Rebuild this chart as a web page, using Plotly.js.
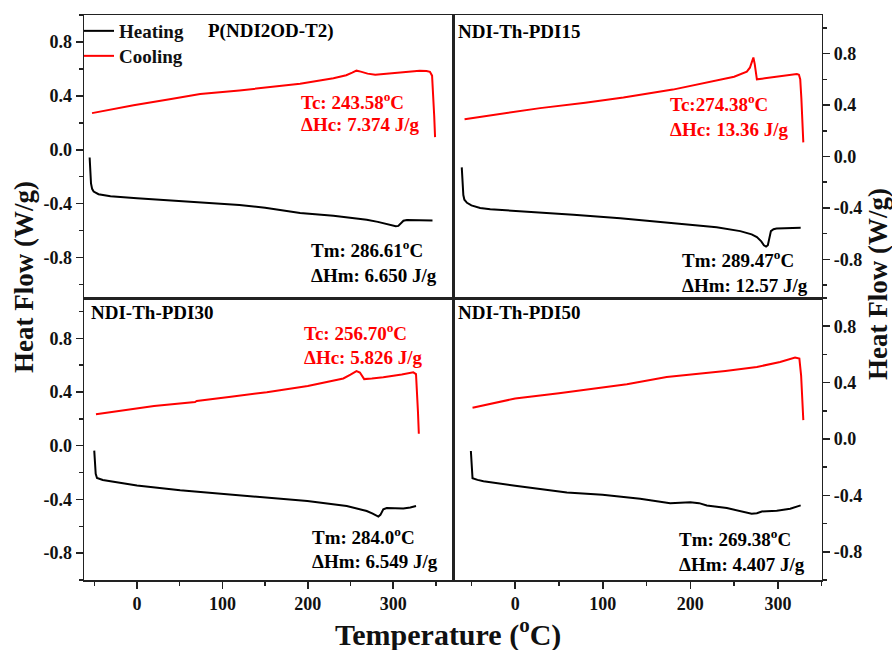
<!DOCTYPE html>
<html>
<head>
<meta charset="utf-8">
<script src="https://cdn.plot.ly/plotly-3.0.1.min.js"></script>
<style>html,body{margin:0;padding:0;background:#fff;}#chart{width:892px;height:650px;}</style>
</head>
<body>
<div id="chart"></div>
<script>
// ---------- DATA ----------
// Panel 1: P(NDI2OD-T2)
const p1HeatT  = [-55.4,-54.8,-53.8,-52.5,-50.7,-45,-38,-31,0,40,74,120,150,191,230,255,269,282,290,298,303,306,309,312,316,330,346];
const p1HeatHF = [-0.057,-0.16,-0.25,-0.29,-0.31,-0.33,-0.34,-0.345,-0.36,-0.375,-0.39,-0.41,-0.43,-0.469,-0.49,-0.505,-0.519,-0.535,-0.548,-0.56,-0.568,-0.565,-0.545,-0.527,-0.521,-0.522,-0.524];
const p1CoolT  = [-52.6,-40,-4,40,74,120,150,191,230,245,252,257,262,270,279,290,308,320,331,339,343,345.5,347,348,349];
const p1CoolHF = [0.272,0.287,0.331,0.376,0.413,0.44,0.46,0.49,0.53,0.553,0.572,0.587,0.58,0.565,0.556,0.562,0.573,0.582,0.587,0.585,0.578,0.55,0.4,0.25,0.094];

// Panel 2: NDI-Th-PDI15
const p2HeatT  = [-61,-60.3,-59.2,-58,-55,-50,-40,-28.5,20,66.5,120,180.7,230,257,270,276,281,284,286.5,288.5,290,292,295,298.5,326];
const p2HeatHF = [-0.085,-0.2,-0.3,-0.336,-0.36,-0.38,-0.40,-0.41,-0.43,-0.453,-0.48,-0.517,-0.55,-0.58,-0.605,-0.626,-0.66,-0.69,-0.70,-0.69,-0.64,-0.58,-0.565,-0.56,-0.554];
const p2CoolT  = [-57.8,-20,28.5,80,123.6,180,218.8,230,250,264.5,268,270.5,272,273.5,275,276,285,295,315,321.6,324,325.5,326.8,328,329];
const p2CoolHF = [0.29,0.33,0.376,0.418,0.458,0.52,0.575,0.596,0.62,0.66,0.69,0.74,0.77,0.72,0.64,0.60,0.608,0.617,0.636,0.642,0.635,0.6,0.45,0.28,0.11];

// Panel 3: NDI-Th-PDI30
const p3HeatT  = [-50,-49.3,-48.3,-46.8,-40,-31,0,50.6,100,152,199.5,245.6,269,276,280,282.6,285,288.4,292.4,300,311.8,320,326.7];
const p3HeatHF = [-0.037,-0.13,-0.21,-0.24,-0.255,-0.264,-0.296,-0.331,-0.358,-0.39,-0.412,-0.449,-0.486,-0.505,-0.52,-0.528,-0.515,-0.474,-0.464,-0.466,-0.467,-0.46,-0.449];
const p3CoolT  = [-48,-20,20,68,70,110,152,200,230,241.6,250,257,261,266,275,288.4,310,323.5,326.7,328,329,330];
const p3CoolHF = [0.235,0.26,0.295,0.325,0.333,0.365,0.398,0.445,0.489,0.501,0.53,0.556,0.545,0.496,0.5,0.509,0.53,0.546,0.533,0.4,0.25,0.089];

// Panel 4: NDI-Th-PDI50
const p4HeatT  = [-50.6,-50,-49.3,-48.7,-43,-36.2,0,59,99.7,142.7,177,190,200,210,218.8,241.7,255,270,276,281.6,298.7,314,326];
const p4HeatHF = [-0.085,-0.17,-0.25,-0.278,-0.29,-0.30,-0.332,-0.379,-0.396,-0.424,-0.455,-0.452,-0.448,-0.455,-0.471,-0.49,-0.51,-0.53,-0.527,-0.514,-0.509,-0.495,-0.471];
const p4CoolT  = [-48.7,0,50,99.7,127.5,173,200,240,276,302.5,319.6,324.5,326.5,327.8,329];
const p4CoolHF = [0.222,0.287,0.325,0.365,0.389,0.44,0.457,0.483,0.511,0.546,0.577,0.57,0.45,0.3,0.134];

// Tick labels
const xTickVals = [0, 100, 200, 300];
const xTickText = ['0', '100', '200', '300'];
const yTickVals = [-0.8, -0.4, 0, 0.4, 0.8];
const yTickText = ['-0.8', '-0.4', '0.0', '0.4', '0.8'];

// Texts
const seriesNames = ['Heating', 'Cooling'];
const panelTitles = ['P(NDI2OD-T2)', 'NDI-Th-PDI15', 'NDI-Th-PDI30', 'NDI-Th-PDI50'];
const tcTexts  = ['Tc: 243.58<sup>o</sup>C', 'Tc:274.38<sup>o</sup>C', 'Tc: 256.70<sup>o</sup>C'];
const hcTexts  = ['ΔHc: 7.374 J/g', 'ΔHc: 13.36 J/g', 'ΔHc: 5.826 J/g'];
const tmTexts  = ['Tm: 286.61<sup>o</sup>C', 'Tm: 289.47<sup>o</sup>C', 'Tm: 284.0<sup>o</sup>C', 'Tm: 269.38<sup>o</sup>C'];
const hmTexts  = ['ΔHm: 6.650 J/g', 'ΔHm: 12.57 J/g', 'ΔHm: 6.549 J/g', 'ΔHm: 4.407 J/g'];
const yTitle = 'Heat Flow (W/g)';
const xTitle = 'Temperature (<sup>o</sup>C)';

// ---------- LAYOUT ----------
const W = 892, H = 650;
const FAM = '"Liberation Serif", "Times New Roman", serif';
const px = v => v / W;
const py = v => 1 - v / H;

const xL = [px(84), px(453)], xR = [px(453), px(821.7)];
const yT = [py(298), py(15)], yB = [py(580), py(298)];
const rangeL = [-62, 370], rangeR = [-71, 350];

const lineCol = '#222';
const base = {showline: true, linecolor: lineCol, linewidth: 1.5, mirror: true,
  zeroline: false, showgrid: false, fixedrange: true};
const tickFont = {family: FAM, size: 18, color: '#111', weight: 'bold'};

function xAxis(domain, range, anchor, labels) {
  const a = Object.assign({}, base, {domain, range, anchor});
  if (labels) {
    Object.assign(a, {ticks: 'outside', ticklen: 7, tickwidth: 1.5, tickcolor: lineCol,
      tickmode: 'array', tickvals: xTickVals, ticktext: xTickText, tickfont: tickFont,
      minor: {ticks: 'outside', tickmode: 'linear', tick0: 0, dtick: 50, ticklen: 4, tickwidth: 1.5, tickcolor: lineCol}});
  } else {
    Object.assign(a, {ticks: '', showticklabels: false});
  }
  return a;
}
function yAxis(domain, range, anchor, side) {
  return Object.assign({}, base, {domain, range, anchor, side,
    ticks: 'outside', ticklen: 7, tickwidth: 1.5, tickcolor: lineCol,
    tickmode: 'array', tickvals: yTickVals, ticktext: yTickText, tickfont: tickFont,
    minor: {ticks: 'outside', tickmode: 'linear', tick0: 0, dtick: 0.2, ticklen: 4, tickwidth: 1.5, tickcolor: lineCol}});
}

const RED = '#ff0000', BLK = '#000000';
function tr(x, y, xa, ya, color, name, show, leg) {
  const t = {x, y, xaxis: xa, yaxis: ya, type: 'scatter', mode: 'lines', name,
    line: {color, width: 2}, showlegend: show, hoverinfo: 'skip'};
  if (leg) t.legend = leg;
  return t;
}
const data = [
  tr(p1HeatT, p1HeatHF, 'x3', 'y', BLK, seriesNames[0], true, 'legend'),
  tr(p1CoolT, p1CoolHF, 'x3', 'y', RED, seriesNames[1], true, 'legend2'),
  tr(p2HeatT, p2HeatHF, 'x4', 'y2', BLK, seriesNames[0], false),
  tr(p2CoolT, p2CoolHF, 'x4', 'y2', RED, seriesNames[1], false),
  tr(p3HeatT, p3HeatHF, 'x', 'y3', BLK, seriesNames[0], false),
  tr(p3CoolT, p3CoolHF, 'x', 'y3', RED, seriesNames[1], false),
  tr(p4HeatT, p4HeatHF, 'x2', 'y4', BLK, seriesNames[0], false),
  tr(p4CoolT, p4CoolHF, 'x2', 'y4', RED, seriesNames[1], false)
];

const annFont = (c) => ({family: FAM, size: 19, color: c, weight: 'bold'});
function ann(text, x, y, color, opts) {
  return Object.assign({text, x: px(x), y: py(y), xref: 'paper', yref: 'paper',
    xanchor: 'left', yanchor: 'middle', showarrow: false, font: annFont(color)}, opts || {});
}
const annotations = [
  ann(panelTitles[0], 206, 31, BLK),
  ann(panelTitles[1], 456, 31, BLK),
  ann(panelTitles[2], 89, 313, BLK),
  ann(panelTitles[3], 456, 313, BLK),
  ann(tcTexts[0], 299, 101, RED), ann(hcTexts[0], 299, 125, RED),
  ann(tcTexts[1], 668, 103, RED), ann(hcTexts[1], 668, 129, RED),
  ann(tcTexts[2], 302, 332, RED), ann(hcTexts[2], 302, 357, RED),
  ann(tmTexts[0], 309, 249, BLK), ann(hmTexts[0], 309, 275, BLK),
  ann(tmTexts[1], 680, 259, BLK), ann(hmTexts[1], 680, 285, BLK),
  ann(tmTexts[2], 310, 536, BLK), ann(hmTexts[2], 310, 561, BLK),
  ann(tmTexts[3], 677, 538, BLK), ann(hmTexts[3], 677, 564, BLK),
  {text: yTitle, x: px(24), y: py(277), xref: 'paper', yref: 'paper', xanchor: 'center', yanchor: 'middle',
    textangle: -90, showarrow: false, font: {family: FAM, size: 27, color: '#111', weight: 'bold'}},
  {text: yTitle, x: px(878), y: py(284), xref: 'paper', yref: 'paper', xanchor: 'center', yanchor: 'middle',
    textangle: -90, showarrow: false, font: {family: FAM, size: 27, color: '#111', weight: 'bold'}},
  {text: xTitle, x: px(448), y: py(632), xref: 'paper', yref: 'paper', xanchor: 'center', yanchor: 'middle',
    showarrow: false, font: {family: FAM, size: 30, color: '#111', weight: 'bold'}}
];

const legFont = {family: FAM, size: 19, color: '#111', weight: 'bold'};
const layout = {
  width: W, height: H,
  margin: {l: 0, r: 0, t: 0, b: 0, pad: 0},
  paper_bgcolor: '#fff', plot_bgcolor: '#fff',
  xaxis: xAxis(xL, rangeL, 'y3', true),
  xaxis2: xAxis(xR, rangeR, 'y4', true),
  xaxis3: xAxis(xL, rangeL, 'y', false),
  xaxis4: xAxis(xR, rangeR, 'y2', false),
  yaxis: yAxis(yT, [-1.1, 1.0], 'x3', 'left'),
  yaxis2: yAxis(yT, [-1.1, 1.1], 'x4', 'right'),
  yaxis3: yAxis(yB, [-1.0, 1.1], 'x', 'left'),
  yaxis4: yAxis(yB, [-1.0, 1.0], 'x2', 'right'),
  showlegend: true,
  legend: {x: px(79), y: py(12), xanchor: 'left', yanchor: 'top', bgcolor: 'rgba(0,0,0,0)',
    borderwidth: 0, font: legFont},
  legend2: {x: px(79), y: py(37), xanchor: 'left', yanchor: 'top', bgcolor: 'rgba(0,0,0,0)',
    borderwidth: 0, font: legFont},
  annotations
};

Plotly.newPlot('chart', data, layout, {displayModeBar: false, staticPlot: true});
</script>
</body>
</html>
